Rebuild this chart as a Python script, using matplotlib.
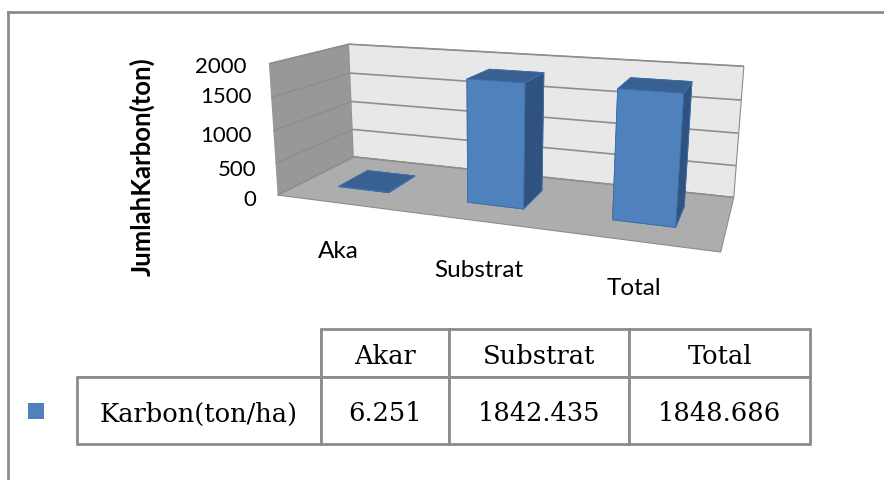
import matplotlib
matplotlib.use('Agg')
import matplotlib.pyplot as plt
from matplotlib.lines import Line2D
from matplotlib.patches import Rectangle

# Data
bar_labels = ['Aka', 'Substrat', 'Total']
table_columns = ['Akar', 'Substrat', 'Total']
series_name = 'Karbon(ton/ha)'
karbon = [6.251, 1842.435, 1848.686]
karbon_text = ['6.251', '1842.435', '1848.686']
z_ticks = [0, 500, 1000, 1500, 2000]

W, H = 884, 481
plt.rcParams['grid.color'] = '#8e8e8e'
plt.rcParams['grid.linewidth'] = 1.2

fig = plt.figure(figsize=(W / 100, H / 100), dpi=100)

# 3D chart, camera set up for the wide angle view
ax = fig.add_axes([125 / W, -33 / H, 742 / W, 742 / H], projection='3d',
                  proj_type='persp', focal_length=0.2)
ax.patch.set_alpha(0)
ax.view_init(elev=13.9, azim=-70.7, roll=-0.3)
ax.set_box_aspect((1.685, 0.59, 0.5185), zoom=0.634)

front, top, side = '#4f81bd', '#386090', '#2f5280'
for i, val in enumerate(karbon):
    # face order: bottom, top, front, back, left, right
    ax.bar3d(i + 0.3, 0.3, 0, 0.4, 0.4, val, shade=False,
             color=[top, top, front, front, side, side],
             edgecolor='#3f6fa8', linewidth=0.6)

ax.set_xlim(0, 3)
ax.set_ylim(0, 1)
ax.set_zlim(0, 2000)
ax.set_xticks([])
ax.set_yticks([])
ax.set_zticks(z_ticks)
ax.set_zticklabels([])
ax.tick_params(axis='z', color=(0, 0, 0, 0))

ax.xaxis.set_pane_color('#989898')
ax.yaxis.set_pane_color('#e8e8e8')
ax.zaxis.set_pane_color('#adadad')
for axis in (ax.xaxis, ax.yaxis, ax.zaxis):
    axis.pane.set_edgecolor('#8c8c8c')
    axis.pane.set_linewidth(0.8)
    axis.line.set_color((0, 0, 0, 0))

# Overlay in pixel coordinates for labels, frame and legend key
over = fig.add_axes([0, 0, 1, 1])
over.set_xlim(0, W)
over.set_ylim(H, 0)
over.axis('off')

over.add_line(Line2D([8, 8], [13, H], color='#8c8c8c', lw=2))
over.add_line(Line2D([8, W], [13, 13], color='#8c8c8c', lw=2))

tick_pos = [(256, 200), (256, 170), (252, 136), (252, 97), (247, 67)]
for t, (x, y) in zip(z_ticks, tick_pos):
    over.text(x, y, str(t), ha='right', va='center', family='Lato', fontsize=16)

over.text(142, 167, 'JumlahKarbon(ton)', rotation=90, ha='center', va='center',
          family='Lato', fontweight='bold', fontsize=18.5)

label_pos = [(338, 251), (479, 271), (634, 289)]
for lab, (x, y) in zip(bar_labels, label_pos):
    over.text(x, y, lab, ha='center', va='center', family='Lato', fontsize=17.5)

over.add_patch(Rectangle((28, 404), 16, 16, color='#4f81bd', lw=0))

# Data table under the chart
col_x = [77, 321, 449, 629, 810]
row_y = [330, 378, 445]
tab = over.inset_axes([col_x[0] / W, 1 - row_y[2] / H, (col_x[4] - col_x[0]) / W,
                       (row_y[2] - row_y[0]) / H])
tab.axis('off')
col_w = [(col_x[i + 1] - col_x[i]) / (col_x[4] - col_x[0]) for i in range(4)]
table = tab.table(cellText=[[''] + table_columns, [series_name] + karbon_text],
                  colWidths=col_w, cellLoc='center', bbox=[0, 0, 1, 1])
table.auto_set_font_size(False)
for (r, c), cell in table.get_celld().items():
    cell.set_edgecolor('#8c8c8c')
    cell.set_linewidth(2)
    cell.set_height((row_y[r + 1] - row_y[r]) / (row_y[2] - row_y[0]))
    cell.get_text().set_fontsize(18.5)
    cell.get_text().set_family('DejaVu Serif')
    cell.get_text().set_verticalalignment('center_baseline')
table[(0, 0)].visible_edges = 'BR'

fig.savefig('out.png', dpi=100)
